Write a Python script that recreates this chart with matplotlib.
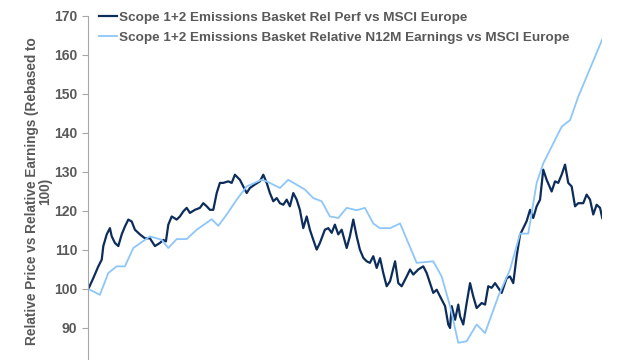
import matplotlib
matplotlib.use("Agg")
import matplotlib.pyplot as plt

plt.rcParams['font.family'] = ['Liberation Sans', 'DejaVu Sans']

# weekly index, values
perf_weeks = [0, 2.5, 5, 6.7, 7.5, 9.2, 10.8, 11.7, 13.3, 15, 16.7, 18.3, 20, 21.7, 23.3, 25.8,
              28.3, 30.8, 33.3, 35.8, 37.5, 38.8, 40, 41.7, 44.2, 45.8, 47.5, 49.2, 50.8, 53.3,
              55.8, 57.5, 59.2, 60.8, 62.5, 64.2, 65.8, 67.5, 70, 71.7, 73.3, 75.8, 77.5, 79.2,
              80.8, 83.3, 85.8, 87.5, 89.2, 90.8, 92.5, 94.2, 95.8, 97.5, 99.2, 100.8, 102.5,
              104.2, 105.8, 107.5, 109.2, 110.8, 112.5, 114.2, 115.8, 118.3, 120, 121.7, 123.3,
              125, 126.7, 129.2, 130.8, 132.5, 134.2, 135.8, 137.5, 139.2, 140.8, 142.5, 144.2,
              145.9, 147.5, 149.2, 150.9, 153.4, 155, 156.7, 159.2, 160.9, 162.5, 165, 167.5,
              169.2, 170.9, 172.5, 174.2, 176.7, 178.4, 180, 180.9, 181.7, 183.4, 185, 185.9,
              187.5, 189.2, 190.9, 192.5, 194.2, 196.7, 198.4, 200, 201.7, 203.4, 205, 206.7,
              209.2, 210.9, 212.5, 214.2, 215.9, 217.5, 219.2, 220.9, 222.5, 224.2, 225.9, 227.5,
              229.2, 231.7, 233.4, 235, 236.7, 238.4, 240, 241.7, 243.4, 245, 247.5, 249.2,
              250.9, 252.5, 254.2, 255.9, 257]
perf_vals = [100, 102.8, 105.8, 107.5, 111, 114, 115.6, 113.5, 111.8, 111, 114, 116, 117.8, 117.3,
             115.2, 114, 113, 113, 111, 111.8, 112.6, 112.2, 116.5, 118.6, 117.8, 118.6, 119.9,
             120.8, 119.5, 120.3, 120.8, 122, 121.2, 120.3, 120.3, 124.6, 127.2, 127.2, 127.6,
             127.2, 129.3, 128, 126.3, 124.6, 125.9, 126.8, 127.6, 129.3, 127.2, 124.6, 122.5,
             123.3, 122, 121.6, 122.9, 121.2, 124.6, 122.9, 120.3, 115.6, 118.6, 115.2, 112.6,
             110.1, 111.8, 115.2, 115.6, 114.4, 116.5, 114, 115.2, 110.5, 113.5, 117.8, 113.5,
             110.1, 108, 107.1, 106.7, 108.4, 105.4, 107.9, 104.1, 100.7, 102, 107.1, 101.5,
             100.7, 103.2, 105, 103.7, 105, 105.8, 104.1, 101.5, 99, 99.8, 97.3, 95.6, 90.9, 90,
             95.6, 92.1, 96, 93, 90.9, 96.4, 101.5, 98.1, 95.1, 96.4, 96, 100.7, 100.3, 101.5,
             100.3, 99, 102.8, 103.2, 101.5, 108.4, 113.9, 115.6, 117.4, 120.3, 118.2, 121.2,
             122.9, 130.6, 128, 125, 127.6, 127.2, 129.3, 131.9, 127.2, 126.3, 121.2, 122, 122,
             124.2, 122.9, 119.1, 121.6, 120.8, 118.2]

earn_weeks = [0, 5.8, 10, 14.2, 18.3, 22.5, 30.8, 36.7, 40, 44.2, 49.2, 54.2, 61.7, 65, 69.2,
              74.2, 79.2, 86.7, 89.2, 95.8, 100, 108.3, 112.5, 116.7, 120.8, 125, 129.2, 134.2,
              138.3, 142.5, 145.8, 150.9, 155.9, 164.2, 172.5, 176.7, 180.9, 185, 189.2, 194.2,
              198.4, 205, 210.9, 215.9, 220, 224.2, 227.5, 236.7, 240.9, 245, 257]
earn_vals = [100, 98.5, 104.1, 105.8, 105.8, 110.5, 113.5, 112.6, 110.5, 112.8, 112.8, 115.2,
             117.9, 116.2, 119.1, 122.9, 126.3, 128, 127.6, 125.9, 128, 125.5, 123.3, 122.5,
             118.6, 118.2, 120.8, 120.2, 120.8, 116.8, 115.6, 115.6, 116.8, 106.7, 107.1, 103.2,
             95.6, 86.2, 86.6, 90.9, 88.7, 98.1, 105, 114.2, 114.2, 127.2, 132.2, 141.6, 143.3,
             149.3, 164]

y_ticks = [90, 100, 110, 120, 130, 140, 150, 160, 170]

grey = '#595959'
fig = plt.figure(figsize=(6.4, 3.6), dpi=100)
ax = fig.add_axes([0.138, -0.0194, 0.803, 0.975])

ax.plot(perf_weeks, perf_vals, color='#0c2d5c', lw=1.6,
        label='Scope 1+2 Emissions Basket Rel Perf vs MSCI Europe')
ax.plot(earn_weeks, earn_vals, color='#8ec6fb', lw=1.3,
        label='Scope 1+2 Emissions Basket Relative N12M Earnings vs MSCI Europe')

ax.set_xlim(0, 257)
ax.set_ylim(80, 170)
ax.set_yticks(y_ticks)
ax.tick_params(axis='y', direction='out', length=4, color='#a6a6a6', labelcolor=grey,
               labelsize=10, pad=4)
for lab in ax.get_yticklabels():
    lab.set_fontweight('bold')
ax.set_xticks([])
for s in ['top', 'right', 'bottom']:
    ax.spines[s].set_visible(False)
ax.spines['left'].set_color('#a6a6a6')

ax.set_ylabel('Relative Price vs Relative Earnings (Rebased to\n100)', color=grey,
              fontsize=9.8, fontweight='bold', labelpad=1, linespacing=1.0)

leg = ax.legend(loc='upper left', bbox_to_anchor=(0.154, 0.968), bbox_transform=fig.transFigure,
                frameon=False, fontsize=9.7, handlelength=1.4, handletextpad=0.1,
                labelspacing=0.55, borderaxespad=0.0, borderpad=0.0)
for t in leg.get_texts():
    t.set_color(grey)
    t.set_fontweight('bold')

fig.savefig('out.png', dpi=100)
